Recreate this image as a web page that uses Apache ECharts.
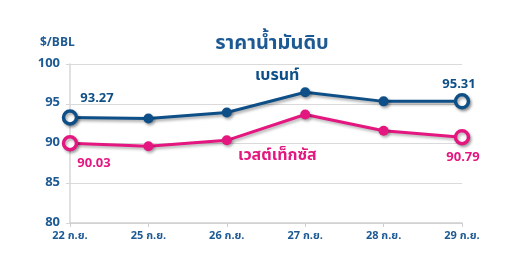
<!DOCTYPE html>
<html><head><meta charset="utf-8">
<script src="https://cdn.jsdelivr.net/npm/echarts@6/dist/echarts.min.js"></script>
<style>html,body{margin:0;padding:0;background:#fff}#c{width:529px;height:274px}</style>
</head><body><div id="c"></div>
<script>
const categories = ['22 ก.ย.', '25 ก.ย.', '26 ก.ย.', '27 ก.ย.', '28 ก.ย.', '29 ก.ย.'];
const brent = [93.27, 93.15, 93.9, 96.45, 95.3, 95.31];
const wti = [90.03, 89.65, 90.4, 93.65, 91.6, 90.79];
const yTicks = [80, 85, 90, 95, 100];
const titleText = 'ราคาน้ำมันดิบ';
const unitText = '$/BBL';
const brentName = 'เบรนท์';
const wtiName = 'เวสต์เท็กซัส';

const BLUE = '#0e4f88';
const PINK = '#e3177f';
const TXT = '#1d5a94';
const FONT = '"Noto Sans Thai","Noto Sans",Tahoma,sans-serif';

function mkData(vals, color, labelPos, firstOff, lastOff) {
  const last = vals.length - 1;
  return vals.map((v, i) => {
    if (i === 0 || i === last) {
      return {
        value: v,
        symbolSize: 13,
        itemStyle: { color: '#fff', borderColor: color, borderWidth: 3.5 },
        label: {
          show: true, position: labelPos, color: color, fontWeight: 'bold',
          fontSize: 13, fontFamily: FONT,
          offset: i === 0 ? firstOff : lastOff,
          formatter: v.toFixed(2)
        }
      };
    }
    return { value: v, symbolSize: 10, itemStyle: { color: color, borderColor: color, borderWidth: 0 } };
  });
}

const chart = echarts.init(document.getElementById('c'));
chart.setOption({
  animation: false,
  backgroundColor: '#fff',
  title: {
    text: titleText, left: 267, top: 30, textAlign: 'center',
    textStyle: { color: TXT, fontSize: 20, fontWeight: 'bold', fontFamily: FONT }
  },
  graphic: [
    { type: 'text', left: 40, top: 38, style: { text: unitText, fill: TXT, font: 'bold 12px ' + FONT } },
    { type: 'text', left: 255, top: 69, style: { text: brentName, fill: BLUE, font: 'bold 16px ' + FONT } },
    { type: 'text', left: 238, top: 149, style: { text: wtiName, fill: PINK, font: 'bold 16px ' + FONT } }
  ],
  grid: { left: 70, right: 67, top: 64, bottom: 51, containLabel: false },
  xAxis: {
    type: 'category', data: categories, boundaryGap: false,
    axisLine: { lineStyle: { color: '#cfcfcf', width: 1.5 } },
    axisTick: { show: true, length: 4, lineStyle: { color: '#cfcfcf' } },
    axisLabel: { color: TXT, fontWeight: 'bold', fontSize: 11, fontFamily: FONT, margin: 8 },
    splitLine: { show: false }
  },
  yAxis: {
    type: 'value', min: 80, max: 100, interval: 5,
    axisLine: { show: true, lineStyle: { color: '#d6d6d6', width: 1.5 } },
    axisTick: { show: true, length: 4, lineStyle: { color: '#d6d6d6' } },
    axisLabel: { color: TXT, fontWeight: 'bold', fontSize: 13, fontFamily: FONT, margin: 10,
      formatter: v => yTicks.includes(v) ? String(v) : '' },
    splitLine: { lineStyle: { color: '#dadada', width: 1.2 } }
  },
  series: [
    {
      name: brentName, type: 'line', data: mkData(brent, BLUE, 'top', [27, 2], [-3, 4]),
      symbol: 'circle', showAllSymbol: true,
      lineStyle: { color: BLUE, width: 3, shadowColor: 'rgba(0,0,0,0.35)', shadowBlur: 3, shadowOffsetX: 1.5, shadowOffsetY: 2 },
      itemStyle: { color: BLUE, shadowColor: 'rgba(0,0,0,0.35)', shadowBlur: 3, shadowOffsetX: 1.5, shadowOffsetY: 2 },
      z: 3
    },
    {
      name: wtiName, type: 'line', data: mkData(wti, PINK, 'bottom', [24, 1], [1, 1]),
      symbol: 'circle', showAllSymbol: true,
      lineStyle: { color: PINK, width: 3, shadowColor: 'rgba(0,0,0,0.3)', shadowBlur: 3, shadowOffsetX: 1.5, shadowOffsetY: 2 },
      itemStyle: { color: PINK, shadowColor: 'rgba(0,0,0,0.3)', shadowBlur: 3, shadowOffsetX: 1.5, shadowOffsetY: 2 },
      z: 2
    }
  ]
});
</script></body></html>
